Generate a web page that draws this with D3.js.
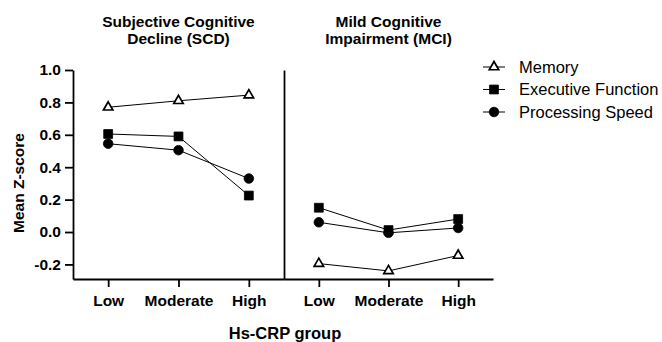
<!DOCTYPE html>
<html>
<head>
<meta charset="utf-8">
<script src="https://cdn.jsdelivr.net/npm/d3@7"></script>
<style>
  body { margin: 0; background: #fff; }
  svg { font-family: "Liberation Sans", Arial, sans-serif; }
  .axis path, .axis line { stroke: #000; stroke-width: 1.8; }
</style>
</head>
<body>
<div class="container"></div>
<script>
// Data
const groups = ["Low", "Moderate", "High"];
const panelTitles = [
  ["Subjective Cognitive", "Decline (SCD)"],
  ["Mild Cognitive", "Impairment (MCI)"],
];
const seriesNames = ["Memory", "Executive Function", "Processing Speed"];
const seriesShapes = ["triangle", "square", "circle"];

const memoryScd = [0.77, 0.81, 0.845];
const execScd = [0.605, 0.59, 0.225];
const speedScd = [0.545, 0.505, 0.33];
const memoryMci = [-0.195, -0.24, -0.145];
const execMci = [0.15, 0.012, 0.08];
const speedMci = [0.06, -0.005, 0.025];

const yTicks = [-0.2, 0.0, 0.2, 0.4, 0.6, 0.8, 1.0];

const width = 662;
const height = 342;

const svg = d3
  .select(".container")
  .append("svg")
  .attr("width", width)
  .attr("height", height);

// Scales
const yScale = d3.scaleLinear().domain([-0.29, 1.0]).range([279, 70]);
const panelX = [
  d3.scalePoint().domain(groups).range([73, 284]).padding(0.5),
  d3.scalePoint().domain(groups).range([284, 493]).padding(0.5),
];

const panelData = [
  [memoryScd, execScd, speedScd],
  [memoryMci, execMci, speedMci],
];

const styleAxis = (g) => {
  g.attr("font-family", null).attr("font-size", null);
  g.selectAll("text")
    .style("font-size", "15.5px")
    .style("font-weight", "bold")
    .attr("fill", "#000");
};

// y axis
const fmt = (d) => d3.format(".1f")(d).replace("\u2212", "-");
svg
  .append("g")
  .attr("class", "axis")
  .attr("transform", "translate(73,0)")
  .call(
    d3.axisLeft(yScale).tickValues(yTicks).tickFormat(fmt).tickSize(8).tickSizeOuter(0).tickPadding(4)
  )
  .call(styleAxis);

// divider between panels
svg
  .append("g")
  .attr("class", "axis")
  .attr("transform", "translate(284,0)")
  .call(d3.axisLeft(yScale).tickValues([]).tickSizeOuter(0));

// x axes
panelX.forEach((x) => {
  svg
    .append("g")
    .attr("class", "axis")
    .attr("transform", "translate(0,279)")
    .call(d3.axisBottom(x).tickSize(8).tickSizeOuter(0).tickPadding(8))
    .call(styleAxis);
});

// Symbols
const symbolType = {
  triangle: d3.symbolTriangle2,
  square: d3.symbolSquare2,
  circle: d3.symbolCircle,
};
const symbolSize = { triangle: 64, square: 100, circle: 72 };
const symbolFill = { triangle: "#fff", square: "#000", circle: "#000" };

const drawSymbol = (g, shape, cx, cy) => {
  g.append("path")
    .attr("transform", "translate(" + cx + "," + cy + ")")
    .attr("d", d3.symbol().type(symbolType[shape]).size(symbolSize[shape])())
    .attr("fill", symbolFill[shape])
    .attr("stroke", "#000")
    .attr("stroke-width", shape === "triangle" ? 1.7 : 0.8);
};

// Lines and markers
const line = d3.line();
panelData.forEach((series, p) => {
  const x = panelX[p];
  const g = svg.append("g");
  series.forEach((values) => {
    const pts = values.map((v, i) => [x(groups[i]), yScale(v)]);
    g.append("path")
      .attr("d", line(pts))
      .attr("fill", "none")
      .attr("stroke", "#000")
      .attr("stroke-width", 1);
  });
  series.forEach((values, s) => {
    values.forEach((v, i) => drawSymbol(g, seriesShapes[s], x(groups[i]), yScale(v)));
  });

  // panel title
  const cx = (x.range()[0] + x.range()[1]) / 2;
  svg
    .append("text")
    .attr("x", cx)
    .attr("y", 26.5)
    .attr("text-anchor", "middle")
    .style("font-size", "15.5px")
    .style("font-weight", "bold")
    .selectAll("tspan")
    .data(panelTitles[p])
    .enter()
    .append("tspan")
    .attr("x", cx)
    .attr("dy", (d, i) => (i === 0 ? 0 : 17))
    .text((d) => d);
});

// Axis titles
svg
  .append("text")
  .attr("transform", "translate(24,183) rotate(-90)")
  .attr("text-anchor", "middle")
  .style("font-size", "15.5px")
  .style("font-weight", "bold")
  .text("Mean Z-score");

svg
  .append("text")
  .attr("x", 285)
  .attr("y", 339)
  .attr("text-anchor", "middle")
  .style("font-size", "16.5px")
  .style("font-weight", "bold")
  .text("Hs-CRP group");

// Legend
const legend = svg.append("g").attr("transform", "translate(483,67)");
seriesNames.forEach((name, i) => {
  const row = legend.append("g").attr("transform", "translate(0," + i * 22.5 + ")");
  row.append("line")
    .attr("x1", 0).attr("x2", 22)
    .attr("stroke", "#000").attr("stroke-width", 1);
  drawSymbol(row, seriesShapes[i], 11, 0);
  row.append("text")
    .attr("x", 36)
    .attr("dy", "0.35em")
    .style("font-size", "16.5px")
    .text(name);
});
</script>
</body>
</html>
